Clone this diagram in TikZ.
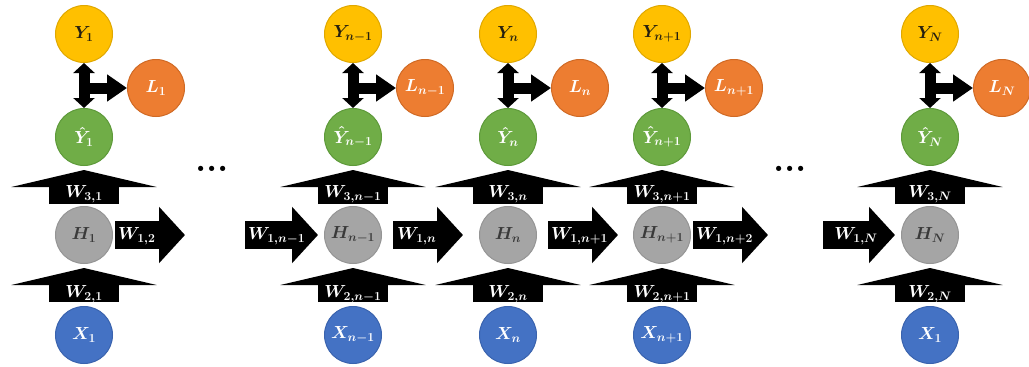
\RequirePackage{fix-cm}
\documentclass[tikz,border=0pt]{standalone}
\usepackage{bm}
\usetikzlibrary{arrows.meta}
\definecolor{cY}{HTML}{FFC000}
\definecolor{cYd}{HTML}{E0A800}
\definecolor{cL}{HTML}{ED7D31}
\definecolor{cLd}{HTML}{D06A25}
\definecolor{cG}{HTML}{70AD47}
\definecolor{cGd}{HTML}{5E9A3A}
\definecolor{cH}{HTML}{A5A5A5}
\definecolor{cHd}{HTML}{959595}
\definecolor{cX}{HTML}{4472C4}
\definecolor{cXd}{HTML}{3A63AE}
\definecolor{ytext}{HTML}{262010}
\definecolor{htext}{HTML}{3A3A3A}
\tikzset{
  lbl/.style={font=\fontsize{17.5}{19}\selectfont},
  circ/.style={circle, minimum size=57pt, inner sep=0pt, line width=1pt, lbl},
  ynode/.style={circ, fill=cY, draw=cYd, text=ytext},
  lnode/.style={circ, fill=cL, draw=cLd, text=white},
  gnode/.style={circ, fill=cG, draw=cGd, text=white},
  hnode/.style={circ, fill=cH, draw=cHd, text=htext},
  xnode/.style={circ, fill=cX, draw=cXd, text=white},
  upblk/.style={line width=70pt, -{Triangle[length=17pt 0 0, width=145pt 0 0]}},
  rtblk/.style={line width=28pt, -{Triangle[length=26pt 0 0, width=55pt 0 0]}},
  dblarr/.style={line width=11pt, {Triangle[length=10pt 0 0, width=21pt 0 0]}-{Triangle[length=10pt 0 0, width=21pt 0 0]}},
  sidearr/.style={line width=11pt, -{Triangle[length=20pt 0 0, width=26pt 0 0]}},
  wlab/.style={text=white, inner sep=0pt, lbl},
  dots/.style={font=\fontsize{36}{36}\selectfont\bfseries, inner sep=0pt, anchor=base}
}
\newcommand{\mycolumn}[5]{%
  \node[ynode] (Y#1) at (#2,34) {$\bm{Y_{#3}}$};
  \node[lnode] (L#1) at (#2+72,88) {$\bm{L_{#3}}$};
  \node[gnode] (G#1) at (#2,137) {$\bm{\hat{Y}_{#3}}$};
  \node[hnode] (H#1) at (#2,235) {$\bm{H_{#3}}$};
  \node[xnode] (X#1) at (#2,335) {$\bm{X_{#5}}$};
  \draw[dblarr] (Y#1) -- (G#1);
  \draw[sidearr] (Y#1 |- L#1) -- (L#1);
  \draw[upblk, shorten <=2pt, shorten >=4pt] (H#1) -- (G#1);
  \node[wlab] (W3#1) at (#2,194) {$\bm{W_{3,#4}}$};
  \draw[upblk, shorten <=4pt, shorten >=4pt] (X#1) -- (H#1);
  \node[wlab] (W2#1) at (#2,294) {$\bm{W_{2,#4}}$};
}
\begin{document}
\begin{tikzpicture}[x=1pt,y=-1pt]
\useasboundingbox[fill=white] (0,0) rectangle (1029,367);
\mycolumn{a}{84}{1}{1}{1}
\mycolumn{b}{353}{n-1}{n-1}{n-1}
\mycolumn{c}{508}{n}{n}{n}
\mycolumn{d}{662}{n+1}{n+1}{n+1}
\mycolumn{e}{930}{N}{N}{1}
% horizontal recurrent arrows
\coordinate (e12) at (185,235);
\draw[rtblk, shorten <=2pt] (Ha.east) -- (e12);
\node[wlab, anchor=west] (W12) at (118,236) {$\bm{W_{1,2}}$};
\coordinate (sbm) at (245,235);
\draw[rtblk, shorten >=6pt] (sbm) -- (Hb.west);
\node[wlab, anchor=west] (W1b) at (248,236) {$\bm{W_{1,n-1}}$};
\draw[rtblk, shorten <=11pt, shorten >=16pt] (Hb.east) -- (Hc.west);
\node[wlab, anchor=west] (W1c) at (397,236) {$\bm{W_{1,n}}$};
\draw[rtblk, shorten <=11pt, shorten >=15pt] (Hc.east) -- (Hd.west);
\node[wlab, anchor=west] (W1d) at (551,236) {$\bm{W_{1,n+1}}$};
\coordinate (edn) at (768,235);
\draw[rtblk, shorten <=2pt] (Hd.east) -- (edn);
\node[wlab, anchor=west] (W1dd) at (696,236) {$\bm{W_{1,n+2}}$};
\coordinate (sN) at (823,235);
\draw[rtblk, shorten >=6pt] (sN) -- (He.west);
\node[wlab] (W1e) at (856,236) {$\bm{W_{1,N}}$};
% ellipses
\node[dots] (d1) at (212,171) {...};
\node[dots] (d2) at (790,171) {...};
\end{tikzpicture}
\end{document}
